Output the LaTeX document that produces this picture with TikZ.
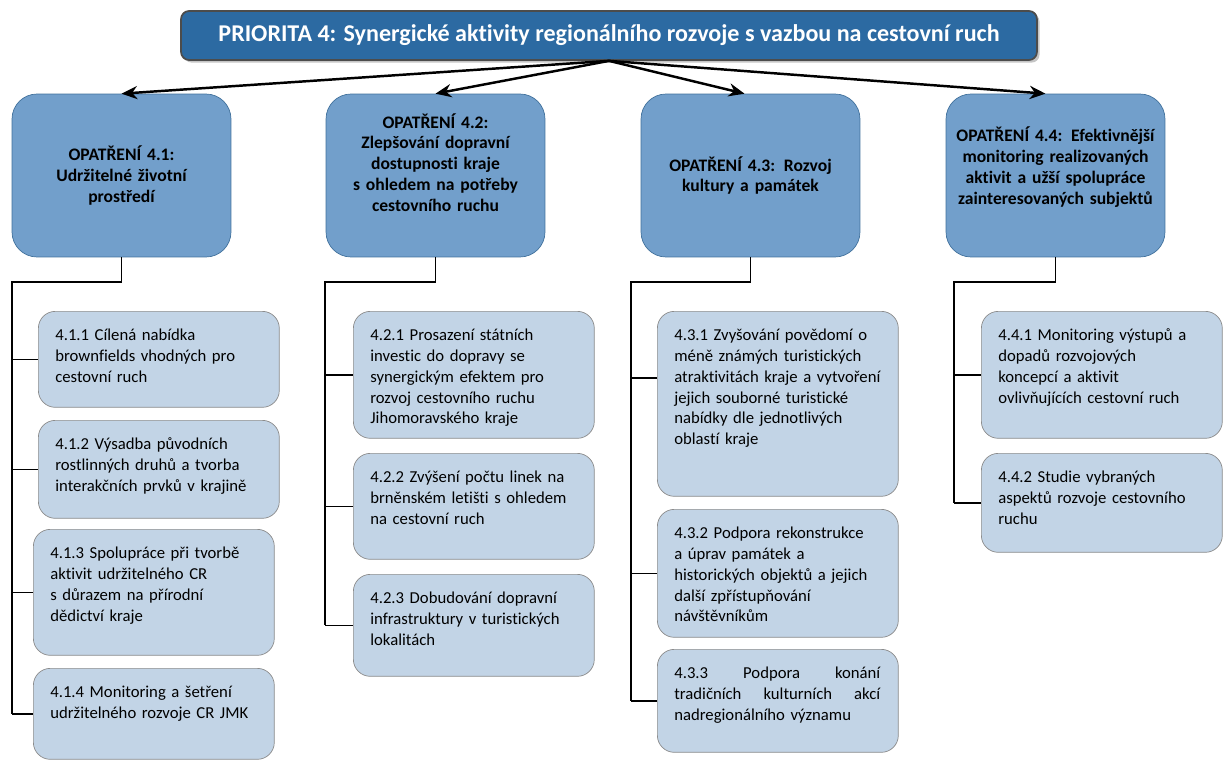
\documentclass[tikz,border=0pt]{standalone}
\usepackage{fontspec}
\setmainfont[Ligatures=NoCommon]{Carlito}
\usepackage{tikz}
\usetikzlibrary{positioning,arrows.meta,shadows}

\definecolor{priofill}{RGB}{44,106,162}
\definecolor{optfill}{RGB}{114,159,203}
\definecolor{optline}{RGB}{65,113,156}
\definecolor{actfill}{RGB}{194,212,230}
\definecolor{actline}{RGB}{140,140,140}

\begin{document}
\begin{tikzpicture}[x=0.02cm,y=-0.02cm,>={Stealth[length=9pt,width=7.5pt]},
                    font=\fontsize{9.5pt}{11.9pt}\selectfont]
  \tikzstyle{prio}=[draw=black!70,line width=1pt,fill=priofill,text=white,
                    rounded corners=0.16cm,minimum width=17.12cm,minimum height=0.98cm,
                    font=\fontsize{13.7pt}{15pt}\selectfont\bfseries,
                    drop shadow={shadow xshift=1.5pt,shadow yshift=-1.5pt,fill=black!45}]
  \tikzstyle{opt}=[draw=optline,fill=optfill,rounded corners=0.5cm,
                   minimum width=4.38cm,minimum height=3.26cm,text width=4.1cm,align=center,
                   font=\fontsize{10pt}{11.9pt}\selectfont\bfseries]
  \tikzstyle{act}=[draw=actline,fill=actfill,rounded corners=0.34cm,anchor=north west,
                   inner sep=0pt,text width=4.82cm,text height=0.58cm,
                   execute at begin node={\leftskip=0.34cm}]
  \tikzstyle{link}=[line width=0.8pt]
  \tikzstyle{spoke}=[->,line width=1.4pt]

  \useasboundingbox (0,0) rectangle (1223,760);

  % priority and measures
  \node[prio] (prio) at (609,35.5)
    {PRIORITA 4: Synergické aktivity regionálního rozvoje s vazbou na cestovní ruch};
  \node[opt] (opt1) at (121.5,175.5)  {OPATŘENÍ 4.1:\\Udržitelné životní\\prostředí};
  \node[opt] (opt2) at (435.5,175.5)  {OPATŘENÍ 4.2:\\Zlepšování dopravní\\dostupnosti kraje\\s ohledem na potřeby\\cestovního ruchu\rule[-0.52cm]{0pt}{0pt}};
  \node[opt] (opt3) at (750.5,175.5)  {OPATŘENÍ 4.3: Rozvoj\\kultury a památek};
  \node[opt] (opt4) at (1055.5,175.5) {OPATŘENÍ 4.4: Efektivnější\\monitoring realizovaných\\aktivit a užší spolupráce\\zainteresovaných subjektů\rule[-0.4cm]{0pt}{0pt}};

  % activities
  \node[act,text depth=1.34cm] (a11) at (38,311)  {4.1.1 Cílená nabídka\\brownfields vhodných pro\\cestovní ruch};
  \node[act,text depth=1.38cm] (a12) at (38,420)  {4.1.2 Výsadba původních\\rostlinných druhů a tvorba\\interakčních prvků v krajině};
  \node[act,text depth=1.94cm] (a13) at (33,529)  {4.1.3 Spolupráce při tvorbě\\aktivit udržitelného CR\\s důrazem na přírodní\\dědictví kraje};
  \node[act,text depth=1.24cm] (a14) at (33,668)  {4.1.4 Monitoring a šetření\\udržitelného rozvoje CR JMK};

  \node[act,text depth=1.96cm] (a21) at (353,311) {4.2.1 Prosazení státních\\investic do dopravy se\\synergickým efektem pro\\rozvoj cestovního ruchu\\Jihomoravského kraje};
  \node[act,text depth=1.54cm] (a22) at (353,453) {4.2.2 Zvýšení počtu linek na\\brněnském letišti s ohledem\\na cestovní ruch};
  \node[act,text depth=1.46cm] (a23) at (353,574) {4.2.3 Dobudování dopravní\\infrastruktury v turistických\\lokalitách};

  \node[act,text depth=3.12cm] (a31) at (657,311) {4.3.1 Zvyšování povědomí o\\méně známých turistických\\atraktivitách kraje a vytvoření\\jejich souborné turistické\\nabídky dle jednotlivých\\oblastí kraje};
  \node[act,text depth=1.98cm] (a32) at (657,509) {4.3.2 Podpora rekonstrukce\\a úprav památek a\\historických objektů a jejich\\další zpřístupňování\\návštěvníkům};
  \node[act,text depth=1.48cm,execute at begin node={\rightskip=0.36cm}]
       (a33) at (657,649) {4.3.3\hfill Podpora\hfill konání\\tradičních\hfill kulturních\hfill akcí\\nadregionálního významu};

  \node[act,text depth=1.96cm] (a41) at (981,311) {4.4.1 Monitoring výstupů a\\dopadů rozvojových\\koncepcí a aktivit\\ovlivňujících cestovní ruch};
  \node[act,text depth=1.40cm] (a42) at (981,453) {4.4.2 Studie vybraných\\aspektů rozvoje cestovního\\ruchu};

  % arrows from the priority
  \draw[spoke] (prio.south) -- (opt1.north);
  \draw[spoke] (prio.south) -- (opt2.north);
  \draw[spoke] (prio.south) -- ([xshift=-0.12cm]opt3.north);
  \draw[spoke] (prio.south) -- ([xshift=-0.2cm]opt4.north);

  % trees below the measures
  \coordinate (t1) at (12,282);
  \coordinate (t2) at (325,282);
  \coordinate (t3) at (631,282);
  \coordinate (t4) at (954,282);

  \draw[link] (opt1.south) |- (t1) -- (t1 |- a14.west);
  \draw[link] (opt2.south) |- (t2) -- (t2 |- a23.west);
  \draw[link] (opt3.south) |- (t3) -- (t3 |- a33.west);
  \draw[link] (opt4.south) |- (t4) -- (t4 |- a42.west);

  \foreach \a in {a11,a12,a13,a14} \draw[link] (t1 |- \a.west) -- (\a.west);
  \foreach \a in {a21,a22,a23}     \draw[link] (t2 |- \a.west) -- (\a.west);
  \draw[link] (t3 |- 0,378) -- (a31.west |- 0,378);
  \foreach \a in {a32,a33}         \draw[link] (t3 |- \a.west) -- (\a.west);
  \foreach \a in {a41,a42}         \draw[link] (t4 |- \a.west) -- (\a.west);
\end{tikzpicture}
\end{document}
